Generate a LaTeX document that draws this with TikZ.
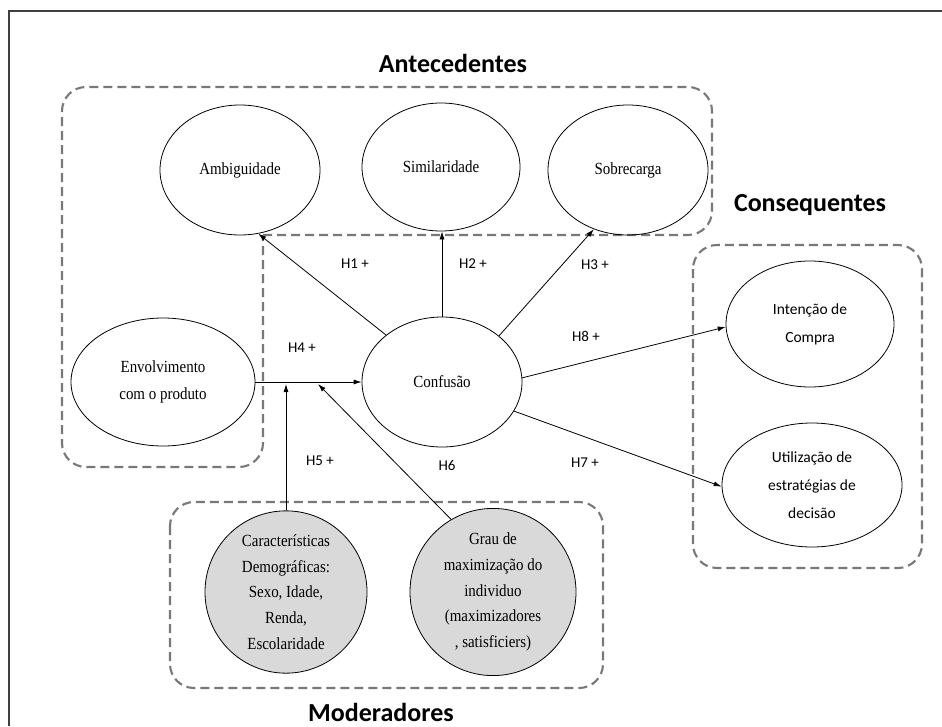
\documentclass[tikz,border=0pt]{standalone}
\usepackage{fontspec}
\setmainfont{Liberation Serif}
\newfontfamily\serfont{Liberation Serif}[FakeStretch=0.88]
\newfontfamily\calfont{Carlito}
\usetikzlibrary{shapes.geometric,arrows.meta}
\definecolor{dashgray}{RGB}{120,120,120}
\definecolor{modfill}{RGB}{217,217,217}
\begin{document}
\begin{tikzpicture}[x=1pt,y=-1pt,
  ell/.style={ellipse, draw=black, line width=0.8pt, inner sep=0pt, align=center,
              font=\serfont\fontsize{17}{26.5}\selectfont},
  gell/.style={ell, fill=modfill, font=\serfont\fontsize{17}{25.7}\selectfont},
  cell/.style={ell, font=\calfont\fontsize{15.5}{28}\selectfont},
  grp/.style={draw=dashgray, line width=2.1pt, dash pattern=on 9pt off 5pt, rounded corners=24pt},
  arr/.style={draw=black, line width=0.8pt, -{Latex[length=8pt,width=5pt]}},
  hyp/.style={font=\calfont\fontsize{15}{15}\selectfont, inner sep=0pt},
  ttl/.style={font=\calfont\bfseries\fontsize{26}{26}\selectfont, inner sep=0pt}]
\useasboundingbox (0,0) rectangle (942,726);
\fill[white] (0,0) rectangle (942,726);
% outer frame
\draw[line width=1.6pt, black!75] (9,726) -- (9,11) -- (942,11);

% groups
\draw[grp] (263,235) -- (712,235) -- (712,87) -- (62,87) -- (62,467) -- (263,467) -- (263,235);
\draw[grp] (693,245) rectangle (922,568);
\draw[grp] (170,502) rectangle (603,688);

% titles
\node[ttl] (tA) at (453,63) {Antecedentes};
\node[ttl] (tC) at (810,205) {Consequentes};
\node[ttl] (tM) at (381,712) {Moderadores};

% ellipses
\node[ell, minimum width=160pt, minimum height=130pt] (amb) at (240,170) {Ambiguidade};
\node[ell, minimum width=158pt, minimum height=128pt] (sim) at (441,167) {Similaridade};
\node[ell, minimum width=160pt, minimum height=130pt] (sob) at (628,170) {Sobrecarga};
\node[ell, minimum width=184pt, minimum height=128pt] (env) at (163,382) {Envolvimento\\com o produto};
\node[ell, minimum width=160pt, minimum height=130pt] (conf) at (442,382) {Confusão};
\node[cell, minimum width=168pt, minimum height=126pt] (int) at (810,324) {Intenção de\\Compra};
\node[cell, minimum width=180pt, minimum height=124pt] (uti) at (812,485) {Utilização de\\estratégias de\\decisão};
\node[gell, minimum width=162pt, minimum height=146pt] (car) at (286,592)
  {Características\\Demográficas:\\Sexo, Idade,\\Renda,\\Escolaridade};
\node[gell, minimum width=166pt, minimum height=148pt] (grau) at (493,592)
  {Grau de\\maximização do\\individuo\\(maximizadores\\, satisficiers)};

% connectors
\draw[arr] (conf.140) -- (amb.286);
\draw[arr] (conf.north) -- (conf.north |- sim.south);
\draw[arr] (conf.39) -- (sob.240);
\draw[arr] (env.east) -- (conf.west);
\draw[arr] (conf.3) -- (int.182);
\draw[arr] (conf.338) -- (uti.181);
\coordinate (m5) at (286,384);
\coordinate (m6) at (318,384);
\draw[arr] (car.north) -- (m5);
\draw[arr] (grau.120) -- (m6);

% hypothesis labels
\node[hyp] (h1) at (355,264) {H1 +};
\node[hyp] (h2) at (473,264) {H2 +};
\node[hyp] (h3) at (595,265) {H3 +};
\node[hyp] (h4) at (302,348) {H4 +};
\node[hyp] (h5) at (320,461) {H5 +};
\node[hyp] (h6) at (447,465) {H6};
\node[hyp] (h7) at (585,463) {H7 +};
\node[hyp] (h8) at (586,336) {H8 +};
\end{tikzpicture}
\end{document}
